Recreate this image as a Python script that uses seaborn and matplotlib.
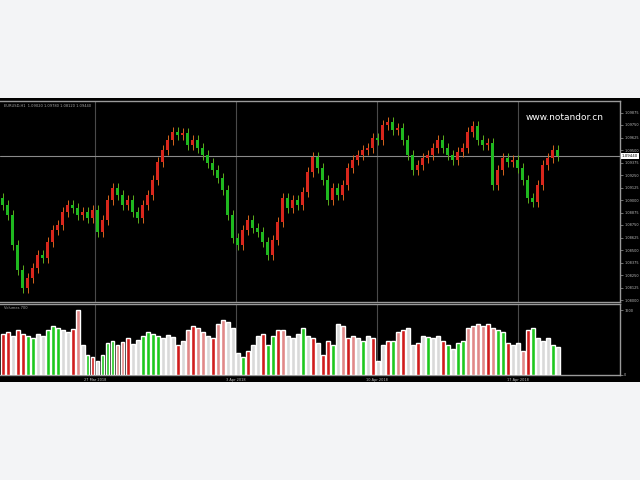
import numpy as np
import pandas as pd
import matplotlib
matplotlib.use("Agg")
import matplotlib.pyplot as plt
import matplotlib.ticker as mticker
from matplotlib.patches import Rectangle
import seaborn as sns

# ── Data ──────────────────────────────────────────────────────────────────────
OPEN0 = 1.0902
CLOSES = [
    1.0895, 1.0885, 1.0855, 1.0830, 1.0812, 1.0822, 1.0832, 1.0845, 1.0842, 1.0858,
    1.0870, 1.0875, 1.0888, 1.0895, 1.0892, 1.0885, 1.0888, 1.0882, 1.0890, 1.0868,
    1.0880, 1.0900, 1.0912, 1.0905, 1.0895, 1.0900, 1.0888, 1.0882, 1.0895, 1.0905,
    1.0920, 1.0938, 1.0950, 1.0960, 1.0968, 1.0965, 1.0967, 1.0955, 1.0960, 1.0952,
    1.0945, 1.0937, 1.0930, 1.0922, 1.0910, 1.0885, 1.0862, 1.0855, 1.0870, 1.0880,
    1.0872, 1.0868, 1.0858, 1.0845, 1.0860, 1.0878, 1.0902, 1.0892, 1.0900, 1.0895,
    1.0908, 1.0928, 1.0943, 1.0932, 1.0920, 1.0900, 1.0912, 1.0905, 1.0915, 1.0932,
    1.0940, 1.0945, 1.0950, 1.0952, 1.0962, 1.0960, 1.0975, 1.0978, 1.0970, 1.0972,
    1.0960, 1.0945, 1.0930, 1.0935, 1.0942, 1.0945, 1.0952, 1.0960, 1.0952, 1.0945,
    1.0940, 1.0948, 1.0952, 1.0968, 1.0974, 1.0960, 1.0955, 1.0957, 1.0915, 1.0930,
    1.0942, 1.0938, 1.0940, 1.0932, 1.0920, 1.0902, 1.0898, 1.0915, 1.0935, 1.0942,
    1.0950, 1.0944,
]
VOLUME = [
    1000, 1050, 950, 1100, 1000, 950, 900, 1000, 950, 1100,
    1200, 1150, 1100, 1050, 1125, 1600, 750, 500, 450, 350,
    500, 800, 850, 750, 825, 900, 775, 875, 950, 1050,
    1000, 950, 900, 975, 925, 750, 850, 1100, 1200, 1150,
    1050, 950, 900, 1250, 1350, 1300, 1150, 550, 450, 600,
    750, 950, 1000, 750, 950, 1100, 1100, 950, 900, 1000,
    1150, 950, 900, 800, 500, 850, 750, 1250, 1200, 900,
    950, 900, 850, 950, 900, 350, 750, 850, 850, 1050,
    1100, 1150, 750, 800, 950, 925, 900, 950, 850, 750,
    650, 800, 850, 1150, 1200, 1250, 1200, 1250, 1150, 1100,
    1050, 800, 750, 800, 600, 1100, 1150, 900, 850, 900,
    750, 700,
]
VOL_KIND = list(
    "rrwrrggwwg" "ggwwrpwgrw" "gggpprwwgg" "ggwwwrwprp"
    "pwrppwwwgr" "wwrggrpwww" "gwrwrrgwpr" "pwgwrwwrgp"
    "rwwrwgwwrg" "wggpppprpg" "grwwprgwww" "gw"
)
TIME_LABELS = ["27 Mar 2018", "3 Apr 2018", "10 Apr 2018", "17 Apr 2018"]

UP, DOWN = "#d8261c", "#1fb81f"
WICK_UP, WICK_DOWN = "#d8661c", "#5cae1c"
VOL_COLORS = {"r": "#d01c1c", "g": "#1ec81e", "w": "#d9d9d9", "p": "#e08888"}

# ── Figure ────────────────────────────────────────────────────────────────────
sns.set_theme(style="dark")
plt.rcParams["font.family"] = ["DejaVu Sans"]

fig = plt.figure(figsize=(6.4, 4.8), dpi=100, facecolor="#f3f4f6")
fig.patches.append(Rectangle((0, 98 / 480), 1, 284 / 480, transform=fig.transFigure,
                             facecolor="black", edgecolor="none", zorder=-5))

axm = fig.add_axes([0, 178 / 480, 620 / 640, 201 / 480], facecolor="black")
axv = fig.add_axes([0, 105 / 480, 620 / 640, 71 / 480], facecolor="black", sharex=axm)

idx = np.arange(len(CLOSES))
closes = np.array(CLOSES)
opens = np.concatenate([[OPEN0], closes[:-1]])
is_up = closes >= opens
colors = [UP if u else DOWN for u in is_up]
wick_colors = [WICK_UP if u else WICK_DOWN for u in is_up]

# candles
lo = np.minimum(opens, closes)
hi = np.maximum(opens, closes)
axm.vlines(idx, lo - 0.0005, hi + 0.0005, colors=wick_colors, linewidth=0.7, zorder=3)
axm.bar(idx, np.maximum(hi - lo, 0.00015), bottom=lo, width=0.5, color=colors,
        edgecolor="none", zorder=4)

last = closes[-1]
axm.axhline(last, color="#8a8a8a", linewidth=0.8, zorder=2)

axm.set_ylim(1.0798, 1.0999)
axm.set_xlim(-0.5, 123.5)

# volumes
df_vol = pd.DataFrame({"bar": idx, "volume": VOLUME, "kind": VOL_KIND})
sns.barplot(data=df_vol, x="bar", y="volume", hue="kind", palette=VOL_COLORS,
            native_scale=True, dodge=False, legend=False, errorbar=None,
            width=0.8, saturation=1, ax=axv, zorder=3)
axv.set_xlim(-0.5, 123.5)
axv.set_ylim(0, 1750)
axv.set_xlabel("")
axv.set_ylabel("")

grid_x = [18.5, 46.7, 74.9, 103.1]
for ax in (axm, axv):
    for gx in grid_x:
        ax.axvline(gx, color="#4a4a4a", linewidth=0.8, zorder=1)
    for side in ("top", "bottom", "right"):
        ax.spines[side].set_color("#9a9a9a")
        ax.spines[side].set_linewidth(1.0)
    ax.spines["left"].set_visible(False)
    ax.grid(False)
    ax.yaxis.tick_right()
    ax.tick_params(axis="y", colors="#9a9a9a", labelcolor="#bdbdbd",
                   labelsize=2.5, length=2, width=0.5, pad=1)

axm.yaxis.set_major_locator(mticker.MultipleLocator(0.00125))
axm.yaxis.set_major_formatter(mticker.FormatStrFormatter("%.5f"))
axm.tick_params(axis="x", bottom=False, labelbottom=False)

axv.yaxis.set_major_locator(mticker.FixedLocator([0, 1600]))
axv.set_xticks(grid_x)
axv.set_xticklabels(TIME_LABELS)
axv.tick_params(axis="x", colors="#9a9a9a", labelcolor="#bdbdbd", labelsize=2.5,
                length=1.5, width=0.5, pad=0.5)

# current price box
axm.text(1.003, last, f"{last:.5f}", transform=axm.get_yaxis_transform(),
         fontsize=2.8, color="black", va="center", ha="left",
         bbox=dict(facecolor="white", edgecolor="none", pad=0.6), zorder=6)

# header texts
axm.text(0.006, 0.985, f"EURUSD,H1  {OPEN0:.5f} {hi.max():.5f} {lo.min():.5f} {last:.5f}",
         transform=axm.transAxes, fontsize=2.6, color="#a8a8a8", va="top", ha="left")
axv.text(0.006, 0.97, f"Volumes {VOLUME[-1]}", transform=axv.transAxes,
         fontsize=2.6, color="#a8a8a8", va="top", ha="left")
axm.text(0.91, 0.92, "www.notandor.cn", transform=axm.transAxes,
         fontsize=6.5, color="white", va="center", ha="center")

fig.savefig("out.png", dpi=100, facecolor=fig.get_facecolor())
